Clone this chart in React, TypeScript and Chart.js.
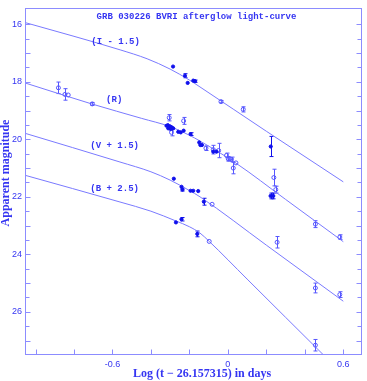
import React, { useEffect, useRef } from "react";
import { Chart, registerables } from "chart.js";
Chart.register(...registerables);

// ---- axis ticks ----
const xTicks = [-1.0, -0.8, -0.6, -0.4, -0.2, 0, 0.2, 0.4, 0.6];
const xTickLabels = [-0.6, 0, 0.6];
const yTicks = [16, 16.5, 17, 17.5, 18, 18.5, 19, 19.5, 20, 20.5, 21, 21.5, 22, 22.5, 23, 23.5, 24, 24.5, 25, 25.5, 26, 26.5, 27];
const yTickLabels = [16, 18, 20, 22, 24, 26];

// ---- observations: [log(t - t0), magnitude, error] ----
const iFilled = [[-0.285, 17.47, 0], [-0.223, 17.79, 0.07], [-0.209, 18.04, 0], [-0.180, 17.96, 0], [-0.171, 17.98, 0.04]];
const iOpen = [[-0.036, 18.69, 0.04], [0.08, 18.96, 0.09]];
const rFilled = [
  [-0.319, 19.53, 0], [-0.312, 19.51, 0], [-0.306, 19.58, 0], [-0.301, 19.55, 0], [-0.296, 19.6, 0],
  [-0.293, 19.58, 0], [-0.288, 19.62, 0], [-0.284, 19.62, 0], [-0.31, 19.62, 0], [-0.298, 19.64, 0],
  [-0.258, 19.74, 0], [-0.245, 19.76, 0], [-0.23, 19.7, 0], [-0.194, 19.82, 0.05],
  [-0.149, 20.11, 0], [-0.143, 20.2, 0], [-0.135, 20.2, 0],
  [-0.076, 20.43, 0], [-0.059, 20.43, 0],
  [0.223, 20.25, 0.35], [0.222, 21.97, 0.1], [0.236, 21.97, 0.1],
];
const rOpen = [
  [-0.881, 18.21, 0.2], [-0.847, 18.44, 0.2], [-0.83, 18.46, 0], [-0.705, 18.77, 0.05],
  [-0.305, 19.25, 0.11], [-0.293, 19.76, 0.12], [-0.23, 19.36, 0.12], [-0.114, 20.31, 0.08],
  [-0.076, 20.36, 0.15], [-0.048, 20.39, 0.25], [-0.007, 20.56, 0.08], [0.002, 20.68, 0.08],
  [0.01, 20.68, 0], [0.019, 20.7, 0.08], [0.028, 21.0, 0.2], [0.042, 20.82, 0],
  [0.239, 21.33, 0.29], [0.249, 21.75, 0.12], [0.455, 22.95, 0.12], [0.582, 23.4, 0.08],
];
const vFilled = [[-0.281, 21.37, 0], [-0.241, 21.65, 0], [-0.236, 21.75, 0.05], [-0.194, 21.79, 0], [-0.18, 21.79, 0], [-0.154, 21.8, 0], [-0.125, 22.17, 0.12]];
const vOpen = [[-0.082, 22.26, 0], [0.256, 23.58, 0.2], [0.455, 25.17, 0.17], [0.582, 25.4, 0.1]];
const bFilled = [[-0.27, 22.89, 0], [-0.241, 22.78, 0.06], [-0.159, 23.29, 0.1]];
const bOpen = [[-0.097, 23.55, 0], [0.455, 27.16, 0.2]];

// ---- fitted light curves: [log(t - t0), magnitude] ----
const iCurve = [[-1.055, 15.94], [-0.8, 16.42], [-0.56, 16.89], [-0.42, 17.2], [-0.3, 17.56], [-0.2, 17.94], [-0.145, 18.18], [0.2, 19.72], [0.6, 21.48]];
const rCurve = [[-1.055, 18.04], [-0.708, 18.77], [-0.45, 19.27], [-0.3, 19.56], [-0.2, 19.86], [-0.145, 20.06], [0.04, 20.82], [0.3, 22.09], [0.6, 23.56]];
const vCurve = [[-1.055, 19.79], [-0.561, 20.79], [-0.4, 21.13], [-0.3, 21.42], [-0.2, 21.78], [-0.145, 22.0], [0.2, 23.68], [0.6, 25.63]];
const bCurve = [[-1.055, 21.25], [-0.561, 22.18], [-0.4, 22.5], [-0.27, 22.84], [-0.2, 23.04], [-0.145, 23.26], [-0.097, 23.55], [0.1, 24.86], [0.3, 26.19], [0.52, 27.65]];

const curveLabels = [
  { text: "(I - 1.5)", x: -0.71, y: 16.6 },
  { text: "(R)", x: -0.633, y: 18.62 },
  { text: "(V + 1.5)", x: -0.715, y: 20.24 },
  { text: "(B + 2.5)", x: -0.715, y: 21.71 },
];
const titleText = "GRB 030226 BVRI afterglow light-curve";
const xTitle = "Log (t \u2212 26.157315) in days";
const yTitle = "Apparent magnitude";

const TEXT = "#3535f2";
const FRAME = "#8c8cff";
const CURVE = "#7a7aff";
const FILL = "#0f0fec";
const OPEN = "#5656ff";

const toXY = (arr: number[][]) => arr.map((p) => ({ x: p[0], y: p[1] }));

const decor = {
  id: "decor",
  beforeDatasetsDraw(chart: any) {
    const { ctx, scales } = chart;
    const x = scales.x, y = scales.y;
    ctx.save();
    ctx.lineWidth = 1;
    chart.data.datasets.forEach((ds: any) => {
      if (!ds.errs) return;
      ctx.strokeStyle = ds.errColor;
      ds.data.forEach((p: any, j: number) => {
        const e = ds.errs[j];
        if (!e) return;
        const px = Math.round(x.getPixelForValue(p.x)) + 0.5;
        const y1 = y.getPixelForValue(p.y - e);
        const y2 = y.getPixelForValue(p.y + e);
        ctx.beginPath();
        ctx.moveTo(px, y1); ctx.lineTo(px, y2);
        ctx.moveTo(px - 2, y1); ctx.lineTo(px + 2, y1);
        ctx.moveTo(px - 2, y2); ctx.lineTo(px + 2, y2);
        ctx.stroke();
      });
    });
    ctx.restore();
  },
  afterDraw(chart: any) {
    const { ctx, chartArea: a, scales } = chart;
    const x = scales.x, y = scales.y;
    ctx.save();
    ctx.strokeStyle = FRAME;
    ctx.lineWidth = 1;
    const L = Math.round(a.left) + 0.5, R = Math.round(a.right) - 0.5;
    const T = Math.round(a.top) + 0.5, B = Math.round(a.bottom) - 0.5;
    ctx.strokeRect(L, T, R - L, B - T);
    ctx.beginPath();
    xTicks.forEach((v) => {
      const px = Math.round(x.getPixelForValue(v)) + 0.5;
      ctx.moveTo(px, B); ctx.lineTo(px, B - 5);
    });
    yTicks.forEach((v) => {
      const py = Math.round(y.getPixelForValue(v)) + 0.5;
      const len = Number.isInteger(v) ? 5 : 4;
      ctx.moveTo(L, py); ctx.lineTo(L + len, py);
      ctx.moveTo(R, py); ctx.lineTo(R - len, py);
    });
    ctx.stroke();

    ctx.fillStyle = TEXT;
    ctx.textBaseline = "middle";
    ctx.font = "bold 9px 'Liberation Mono', 'DejaVu Sans Mono', monospace";
    ctx.textAlign = "center";
    ctx.fillText(titleText, 196.5, 17);
    ctx.textAlign = "left";
    curveLabels.forEach((c) => {
      ctx.fillText(c.text, x.getPixelForValue(c.x), y.getPixelForValue(c.y));
    });

    ctx.font = "bold 12px 'Liberation Serif', 'DejaVu Serif', serif";
    ctx.textAlign = "center";
    ctx.fillText(xTitle, 202, 374);
    ctx.save();
    ctx.translate(6, 173);
    ctx.rotate(-Math.PI / 2);
    ctx.fillText(yTitle, 0, 0);
    ctx.restore();
    ctx.restore();
  },
};

function pointSet(arr: number[][], filled: boolean) {
  return {
    data: toXY(arr),
    errs: arr.map((p) => p[2]),
    errColor: filled ? FILL : OPEN,
    showLine: false,
    pointStyle: "circle",
    pointRadius: filled ? 1.6 : 2.0,
    pointBorderWidth: 1,
    pointBackgroundColor: filled ? FILL : "rgba(0,0,0,0)",
    pointBorderColor: filled ? FILL : OPEN,
  };
}

function curveSet(arr: number[][]) {
  return {
    data: toXY(arr),
    showLine: true,
    pointRadius: 0,
    borderColor: CURVE,
    borderWidth: 1,
    cubicInterpolationMode: "monotone",
    fill: false,
  };
}

export default function App() {
  const ref = useRef<HTMLCanvasElement>(null);
  useEffect(() => {
    if (!ref.current) return;
    const chart = new Chart(ref.current, {
      type: "scatter",
      data: {
        datasets: [
          pointSet(iFilled, true), pointSet(iOpen, false),
          pointSet(rFilled, true), pointSet(rOpen, false),
          pointSet(vFilled, true), pointSet(vOpen, false),
          pointSet(bFilled, true), pointSet(bOpen, false),
          curveSet(iCurve), curveSet(rCurve), curveSet(vCurve), curveSet(bCurve),
        ] as any,
      },
      options: {
        responsive: false,
        animation: false,
        devicePixelRatio: 1,
        layout: { padding: { left: 0, right: 4.3, top: 4.7, bottom: 0 } },
        plugins: { legend: { display: false }, tooltip: { enabled: false }, title: { display: false } },
        scales: {
          x: {
            type: "linear",
            min: -1.0547,
            max: 0.6973,
            grid: { display: false, drawTicks: false },
            border: { display: false },
            afterFit: (s: any) => { s.height = 26; },
            afterBuildTicks: (s: any) => { s.ticks = xTicks.map((v) => ({ value: v })); },
            ticks: {
              autoSkip: false,
              maxRotation: 0,
              padding: 4,
              color: TEXT,
              font: { family: "'Liberation Sans', Arial, sans-serif", size: 9 },
              callback: (v: any) => (xTickLabels.includes(v) ? (v === 0 ? "0" : Number(v).toFixed(1)) : ""),
            },
          },
          y: {
            type: "linear",
            reverse: true,
            min: 15.449,
            max: 27.5,
            grid: { display: false, drawTicks: false },
            border: { display: false },
            afterFit: (s: any) => { s.width = 25; },
            afterBuildTicks: (s: any) => { s.ticks = yTicks.map((v) => ({ value: v })); },
            ticks: {
              autoSkip: false,
              padding: 3,
              color: TEXT,
              font: { family: "'Liberation Sans', Arial, sans-serif", size: 9 },
              callback: (v: any) => (yTickLabels.includes(v) ? String(v) : ""),
            },
          },
        },
      } as any,
      plugins: [decor],
    });
    return () => chart.destroy();
  }, []);
  return (
    <div style={{ position: "absolute", left: 0, top: 0, width: 367, height: 381, background: "#fff" }}>
      <canvas ref={ref} width={367} height={381} style={{ width: 367, height: 381, display: "block" }} />
    </div>
  );
}
